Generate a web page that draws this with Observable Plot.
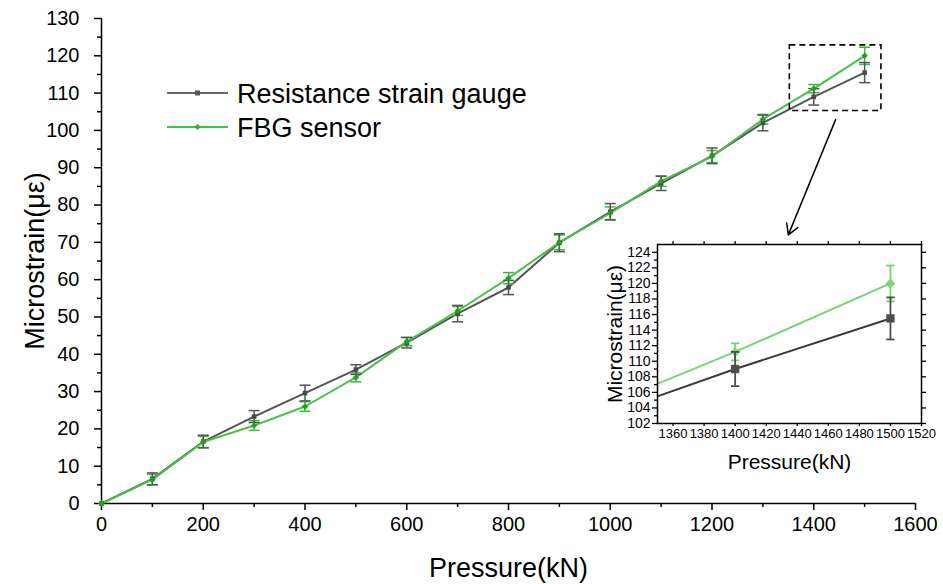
<!DOCTYPE html>
<html><head><meta charset="utf-8">
<script src="https://cdn.jsdelivr.net/npm/d3@7"></script>
<script src="https://cdn.jsdelivr.net/npm/@observablehq/plot@0.6"></script>
<style>
body{margin:0;background:#fff;}
#wrap{position:relative;width:943px;height:584px;font-family:"Liberation Sans",Arial,sans-serif;overflow:hidden;}
#wrap svg{position:absolute;overflow:visible;}
</style></head><body><div id="wrap"></div>
<script>
// ---- data ----
const pressure    = [0,100,200,300,400,500,600,700,800,900,1000,1100,1200,1300,1400,1500];
const gaugeStrain = [0,6.6,16.6,23.3,29.6,35.9,43.1,50.9,57.9,69.9,78.2,85.8,93.2,102.0,109.0,115.5];
const gaugeErr    = [0,1.6,1.7,1.6,2.1,1.3,1.4,2.2,1.9,2.4,2.2,1.9,2.1,2.1,2.2,2.7];
const fbgStrain   = [0,6.4,16.5,20.9,26.0,33.8,43.4,51.6,60.4,70.0,77.8,86.4,93.0,103.0,111.2,120.0];
const fbgErr      = [0,1.4,1.5,1.3,1.3,1.2,1.1,1.2,1.5,2.0,1.7,1.4,1.6,1.3,1.1,2.3];
const seriesNames = ["Resistance strain gauge","FBG sensor"];

const mainXTicks = [0,200,400,600,800,1000,1200,1400,1600];
const mainXMinor = [100,300,500,700,900,1100,1300,1500];
const mainYTicks = [0,10,20,30,40,50,60,70,80,90,100,110,120,130];
const mainYMinor = [5,15,25,35,45,55,65,75,85,95,105,115,125];
const insetXTicks = [1360,1380,1400,1420,1440,1460,1480,1500,1520];
const insetYTicks = [102,104,106,108,110,112,114,116,118,120,122,124];
const insetYMinor = [103,105,107,109,111,113,115,117,119,121,123];
const insetXDomain = [1350,1520];
const insetYDomain = [102,125];

// zoom annotation (data coordinates)
const zoomBox = [{x1:1353, x2:1533, y1:105.2, y2:122.8}];
const zoomArrow = [{x1:1443, y1:102.9, x2:1350, y2:72}];

// ---- build rows ----
const gauge = pressure.map((p,i)=>({x:p, y:gaugeStrain[i], e:gaugeErr[i]}));
const fbg   = pressure.map((p,i)=>({x:p, y:fbgStrain[i], e:fbgErr[i]}));

const capSymbol = {draw(ctx, size){ const r = Math.sqrt(size/Math.PI); ctx.moveTo(-r,0); ctx.lineTo(r,0); }};
const fmt = d3.format("d");

const C = {
  gLine:"#555555", gMark:"#4a4a4a", gErr:"#555555",
  fLine:"#47c247", fMark:"#22a022", fErr:"#3cb83c",
  igLine:"#3a3a3a", igMark:"#4d4d4d",
  ifLine:"#74d474", ifMark:"#7cd67c"
};
const font = '"Liberation Sans", Arial, sans-serif';

function errMarks(rows, color, capR, sw){
  const r = rows.filter(d=>d.e>0);
  return [
    Plot.ruleX(r, {x:"x", y1:d=>d.y-d.e, y2:d=>d.y+d.e, stroke:color, strokeWidth:sw}),
    Plot.dot(r, {x:"x", y:d=>d.y-d.e, symbol:capSymbol, r:capR, fill:"none", stroke:color, strokeWidth:sw}),
    Plot.dot(r, {x:"x", y:d=>d.y+d.e, symbol:capSymbol, r:capR, fill:"none", stroke:color, strokeWidth:sw})
  ];
}

// ---- main plot ----
const main = Plot.plot({
  width:943, height:584,
  marginLeft:101, marginRight:28, marginTop:18, marginBottom:81,
  style:{fontFamily:font, fontSize:"20px", color:"#000", background:"transparent", overflow:"visible"},
  x:{domain:[0,1600], axis:null},
  y:{domain:[0,130], axis:null},
  marks:[
    Plot.axisX({ticks:mainXMinor, tickSize:4, tickFormat:()=>"", label:null, strokeWidth:1.5}),
    Plot.axisX({ticks:mainXTicks, tickSize:7, tickPadding:6, tickFormat:fmt, label:null, fontSize:20, strokeWidth:1.5}),
    Plot.axisY({ticks:mainYMinor, tickSize:4, tickFormat:()=>"", label:null, strokeWidth:1.5}),
    Plot.axisY({ticks:mainYTicks, tickSize:7, tickPadding:15, tickFormat:fmt, label:null, fontSize:20, strokeWidth:1.5}),
    Plot.ruleY([0], {stroke:"#000", strokeWidth:1.5}),
    Plot.ruleX([0], {stroke:"#000", strokeWidth:1.5}),
    Plot.text(["Microstrain(με)"], {frameAnchor:"left", textAnchor:"middle", lineAnchor:"middle", rotate:-90, dx:-66, fontSize:27, fill:"#000"}),
    Plot.text(["Pressure(kN)"], {frameAnchor:"bottom", textAnchor:"middle", lineAnchor:"middle", dy:65, fontSize:27, fill:"#000"}),
    Plot.line(gauge, {x:"x", y:"y", stroke:C.gLine, strokeWidth:2}),
    Plot.line(fbg, {x:"x", y:"y", stroke:C.fLine, strokeWidth:2}),
    ...errMarks(fbg, C.fErr, 5.5, 1.5),
    ...errMarks(gauge, C.gErr, 5.5, 1.5),
    Plot.dot(gauge, {x:"x", y:"y", symbol:"square", r:2.6, fill:C.gMark}),
    Plot.dot(fbg, {x:"x", y:"y", symbol:"square", rotate:45, r:2.6, fill:C.fMark}),
    Plot.rect(zoomBox, {x1:"x1", x2:"x2", y1:"y1", y2:"y2", fill:"none", stroke:"#000", strokeWidth:1.6, strokeDasharray:"6,4"}),
    Plot.arrow(zoomArrow, {x1:"x1", y1:"y1", x2:"x2", y2:"y2", stroke:"#000", strokeWidth:1.5, headLength:12})
  ]
});
main.style.left = "0px"; main.style.top = "0px";
document.getElementById("wrap").appendChild(main);

// ---- inset ----
const inset = Plot.plot({
  width:340, height:240,
  marginLeft:57, marginRight:19, marginTop:14, marginBottom:47,
  style:{fontFamily:font, fontSize:"14px", color:"#000", background:"transparent", overflow:"visible"},
  x:{domain:insetXDomain, axis:null},
  y:{domain:insetYDomain, axis:null},
  marks:[
    Plot.frame({fill:"#fff", stroke:"none"}),
    Plot.axisX({ticks:insetXTicks, tickSize:3, tickPadding:2, tickFormat:fmt, label:null, fontSize:13, strokeWidth:1.3}),
    Plot.axisX({anchor:"top", ticks:insetXTicks, tickSize:4, tickFormat:()=>"", label:null, strokeWidth:1.3}),
    Plot.axisY({ticks:insetYMinor, tickSize:3, tickFormat:()=>"", label:null, strokeWidth:1.3}),
    Plot.axisY({ticks:insetYTicks, tickSize:5, tickPadding:2, tickFormat:fmt, label:null, fontSize:14, strokeWidth:1.3}),
    Plot.axisY({anchor:"right", ticks:insetYTicks, tickSize:4, tickFormat:()=>"", label:null, strokeWidth:1.3}),
    Plot.text(["Microstrain(με)"], {frameAnchor:"left", textAnchor:"middle", lineAnchor:"middle", rotate:-90, dx:-42, fontSize:21, fill:"#000"}),
    Plot.text(["Pressure(kN)"], {frameAnchor:"bottom", textAnchor:"middle", lineAnchor:"middle", dy:39, fontSize:21, fill:"#000"}),
    Plot.line(gauge, {x:"x", y:"y", stroke:C.igLine, strokeWidth:2, clip:true}),
    Plot.line(fbg, {x:"x", y:"y", stroke:C.ifLine, strokeWidth:2, clip:true}),
    ...errMarks(fbg.filter(d=>d.x>=1400), C.ifLine, 4.2, 1.8),
    Plot.dot(fbg.filter(d=>d.x>=1400), {x:"x", y:"y", symbol:"square", rotate:45, r:4, fill:C.ifMark}),
    ...errMarks(gauge.filter(d=>d.x>=1400), C.igMark, 4.2, 1.8),
    Plot.dot(gauge.filter(d=>d.x>=1400), {x:"x", y:"y", symbol:"square", r:4.7, fill:C.igMark}),
    Plot.frame({stroke:"#000", strokeWidth:1.5})
  ]
});
inset.style.left = "600px"; inset.style.top = "230px";
document.getElementById("wrap").appendChild(inset);

// ---- legend ----
const leg = d3.select("#wrap").append("svg").attr("width",943).attr("height",584).style("left","0px").style("top","0px").style("pointer-events","none");
const legRows = [
  {name:seriesNames[0], color:"#666666", mark:"#555555", y:93, sym:"square"},
  {name:seriesNames[1], color:"#3cc63c", mark:"#2fb02f", y:127, sym:"diamond"}
];
legRows.forEach(r=>{
  leg.append("line").attr("x1",167).attr("x2",228).attr("y1",r.y).attr("y2",r.y).attr("stroke",r.color).attr("stroke-width",2);
  if(r.sym==="square"){
    leg.append("rect").attr("x",195).attr("y",r.y-2.5).attr("width",5).attr("height",5).attr("fill",r.mark);
  } else {
    leg.append("rect").attr("x",-2.2).attr("y",-2.2).attr("width",4.4).attr("height",4.4).attr("fill",r.mark)
      .attr("transform",`translate(197.5,${r.y}) rotate(45)`);
  }
  leg.append("text").attr("x",237).attr("y",r.y+3).attr("dominant-baseline","middle")
    .attr("font-family",font).attr("font-size",27).attr("fill","#000").text(r.name);
});
</script>
</body></html>
